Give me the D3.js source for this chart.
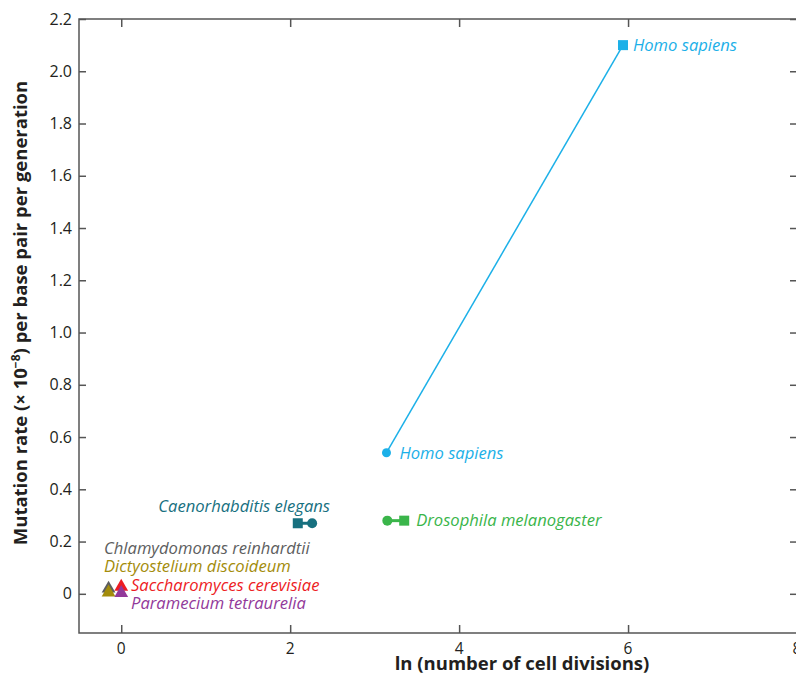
<!DOCTYPE html>
<html>
<head>
<meta charset="utf-8">
<script src="https://cdn.jsdelivr.net/npm/d3@7"></script>
<style>
  body { margin: 0; background: #fff; }
  text { font-family: "Open Sans", "Noto Sans", sans-serif; }
</style>
</head>
<body>
<svg id="chart" width="796" height="679"></svg>
<script>
// values
var species = ["Homo sapiens", "Caenorhabditis elegans", "Drosophila melanogaster",
               "Chlamydomonas reinhardtii", "Dictyostelium discoideum",
               "Saccharomyces cerevisiae", "Paramecium tetraurelia"];
var colors = ["#1cb0e8", "#17707f", "#3ab54a", "#5d5e60", "#a38c0b", "#ed1c24", "#92399a"];

// paired estimates: circle end and square end
var circleX = [3.14, 2.26, 3.15];
var circleY = [0.54, 0.27, 0.28];
var squareX = [5.94, 2.09, 3.35];
var squareY = [2.10, 0.27, 0.28];

// single estimates (triangles)
var triX = [-0.15, -0.15, 0.0, 0.0];
var triY = [0.02, 0.005, 0.027, 0.003];

var xTicks = [0, 2, 4, 6, 8];
var yTicks = [0, 0.2, 0.4, 0.6, 0.8, 1.0, 1.2, 1.4, 1.6, 1.8, 2.0, 2.2];

var svg = d3.select("#chart"),
    plotL = 79, plotR = 797, plotT = 19, plotB = 633,
    axisColor = "#555",
    textColor = "#231f20";

var x = d3.scaleLinear().domain([-0.5, 8]).range([plotL, plotR]);
var y = d3.scaleLinear().domain([-0.15, 2.2]).range([plotB, plotT]);

// box with inward ticks
var yFmt = function (d) { return d === 0 ? "0" : d3.format(".1f")(d); };

svg.append("g").attr("transform", "translate(" + plotL + ",0)")
    .call(d3.axisRight(y).tickValues(yTicks).tickSize(7).tickFormat(""));
svg.append("g").attr("transform", "translate(" + plotR + ",0)")
    .call(d3.axisLeft(y).tickValues(yTicks).tickSize(7).tickFormat(""));
svg.append("g").attr("transform", "translate(0," + plotB + ")")
    .call(d3.axisTop(x).tickValues(xTicks).tickSize(8).tickFormat(""));
svg.append("g").attr("transform", "translate(0," + plotT + ")")
    .call(d3.axisBottom(x).tickValues(xTicks).tickSize(8).tickFormat(""));
svg.selectAll(".tick line").attr("stroke", axisColor).attr("stroke-width", 1.5);
svg.selectAll(".domain").remove();
svg.append("rect")
    .attr("x", plotL).attr("y", plotT)
    .attr("width", plotR - plotL).attr("height", plotB - plotT)
    .attr("fill", "none").attr("stroke", axisColor).attr("stroke-width", 1.5);

// tick labels
svg.append("g").selectAll("text").data(yTicks).enter().append("text")
    .attr("x", 72).attr("y", d => y(d)).attr("dy", "0.35em")
    .attr("text-anchor", "end").attr("font-size", 16).attr("fill", textColor)
    .text(yFmt);
svg.append("g").selectAll("text").data(xTicks).enter().append("text")
    .attr("x", d => x(d)).attr("y", 654)
    .attr("text-anchor", "middle").attr("font-size", 15.5).attr("fill", textColor)
    .text(d => d);

// axis titles
svg.append("text")
    .attr("x", 522).attr("y", 670)
    .attr("text-anchor", "middle").attr("font-size", 18.5).attr("font-weight", "bold")
    .attr("fill", textColor)
    .text("ln (number of cell divisions)");
var yt = svg.append("text")
    .attr("transform", "translate(27,313) rotate(-90)")
    .attr("text-anchor", "middle").attr("font-size", 18.5).attr("font-weight", "bold")
    .attr("fill", textColor);
yt.append("tspan").text("Mutation rate (\u00d7 10");
yt.append("tspan").attr("dy", -7).attr("font-size", 12).text("\u22128");
yt.append("tspan").attr("dy", 7).text(") per base pair per generation");

// connecting lines
var pairs = d3.range(circleX.length);
svg.append("g").selectAll("line").data(pairs).enter().append("line")
    .attr("x1", i => x(circleX[i])).attr("y1", i => y(circleY[i]))
    .attr("x2", i => x(squareX[i])).attr("y2", i => y(squareY[i]))
    .attr("stroke", i => colors[i])
    .attr("stroke-width", i => i === 0 ? 1.5 : 3);

svg.append("g").selectAll("circle").data(pairs).enter().append("circle")
    .attr("cx", i => x(circleX[i])).attr("cy", i => y(circleY[i]))
    .attr("r", i => i === 0 ? 4.5 : 5)
    .attr("fill", i => colors[i]);

svg.append("g").selectAll("rect").data(pairs).enter().append("rect")
    .attr("x", i => x(squareX[i]) - 5).attr("y", i => y(squareY[i]) - 5)
    .attr("width", 10).attr("height", 10)
    .attr("fill", i => colors[i]);

var tri = d3.symbol().type(d3.symbolTriangle).size(82);
svg.append("g").selectAll("path").data(d3.range(triX.length)).enter().append("path")
    .attr("d", tri)
    .attr("transform", i => "translate(" + x(triX[i]) + "," + y(triY[i]) + ")")
    .attr("fill", i => colors[i + 3]);

// species labels
function label(name, px, py, anchor) {
    var i = species.indexOf(name);
    svg.append("text")
        .attr("x", px).attr("y", py).attr("dy", "0.35em")
        .attr("text-anchor", anchor || "start")
        .attr("font-size", 16.6).attr("font-style", "italic")
        .attr("fill", colors[i])
        .text(name);
}
label("Homo sapiens", x(squareX[0]) + 10, y(squareY[0]));
label("Homo sapiens", x(circleX[0]) + 13, y(circleY[0]));
label("Drosophila melanogaster", x(squareX[2]) + 12, y(squareY[2]));
label("Caenorhabditis elegans", 330, 506, "end");
label("Chlamydomonas reinhardtii", 104, 548);
label("Dictyostelium discoideum", 104, 566);
label("Saccharomyces cerevisiae", 131, 585);
label("Paramecium tetraurelia", 131, 603);
</script>
</body>
</html>
